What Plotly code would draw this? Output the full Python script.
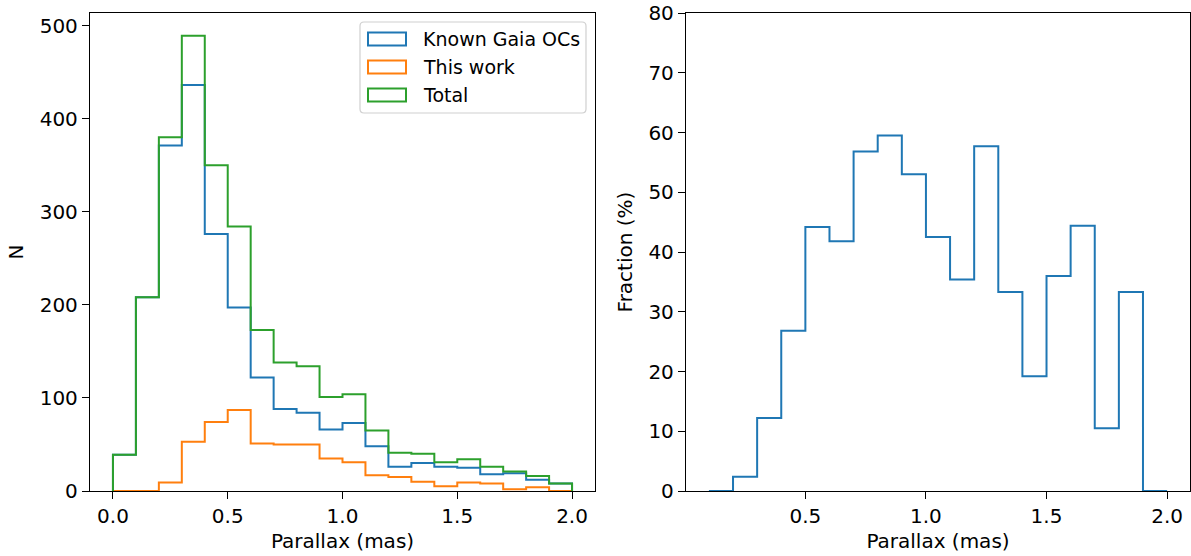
import plotly.graph_objects as go

# ---- data ----
bin_edges = [0.0, 0.1, 0.2, 0.3, 0.4, 0.5, 0.6, 0.7, 0.8, 0.9, 1.0,
             1.1, 1.2, 1.3, 1.4, 1.5, 1.6, 1.7, 1.8, 1.9, 2.0]
known_gaia = [39, 208, 371, 436, 276, 197, 122, 88, 84, 66, 73,
              48, 26, 30, 26, 25, 18, 19, 12, 8]
this_work = [0, 0, 9, 53, 74, 87, 51, 50, 50, 35, 31,
             17, 15, 10, 5, 9, 8, 2, 4, 0]
total = [39, 208, 380, 489, 350, 284, 173, 138, 134, 101, 104,
         65, 41, 40, 31, 34, 26, 21, 16, 8]

frac_edges = [0.1, 0.2, 0.3, 0.4, 0.5, 0.6, 0.7, 0.8, 0.9, 1.0,
              1.1, 1.2, 1.3, 1.4, 1.5, 1.6, 1.7, 1.8, 1.9, 2.0]
fraction = [0.0, 2.4, 12.2, 26.8, 44.2, 41.8, 56.8, 59.5, 53.0, 42.5,
            35.4, 57.7, 33.3, 19.2, 36.0, 44.4, 10.5, 33.3, 0.0]

series_names = ["Known Gaia OCs", "This work", "Total"]
x_ticks_left = [0.0, 0.5, 1.0, 1.5, 2.0]
y_ticks_left = [0, 100, 200, 300, 400, 500]
x_ticks_right = [0.5, 1.0, 1.5, 2.0]
y_ticks_right = [0, 10, 20, 30, 40, 50, 60, 70, 80]

BLUE, ORANGE, GREEN = "#1f77b4", "#ff7f0e", "#2ca02c"
FONT = "DejaVu Sans"
FS = 20
FS_LEG = 19

W, H = 1191, 556
ML, MR, MT, MB = 90, 1, 13, 65
PW, PH = W - ML - MR, H - MT - MB


def step_path(edges, values):
    xs, ys = [edges[0]], [0]
    for i, v in enumerate(values):
        xs += [edges[i], edges[i + 1]]
        ys += [v, v]
    xs.append(edges[-1])
    ys.append(0)
    return xs, ys


def px(xp):
    return (xp - ML) / PW


def py(yp):
    return (H - MB - yp) / PH


fig = go.Figure()

colors = [BLUE, ORANGE, GREEN]
for name, vals, col in zip(series_names, [known_gaia, this_work, total], colors):
    xs, ys = step_path(bin_edges, vals)
    fig.add_trace(go.Scatter(x=xs, y=ys, mode="lines", name=name,
                             line=dict(color=col, width=2),
                             xaxis="x", yaxis="y", showlegend=False))

xs, ys = step_path(frac_edges, fraction)
fig.add_trace(go.Scatter(x=xs, y=ys, mode="lines", name="Fraction",
                         line=dict(color=BLUE, width=2),
                         xaxis="x2", yaxis="y2", showlegend=False))

# ---- legend (matplotlib style: outlined patches in a rounded box) ----
shapes = []
annotations = []
bx0, bx1, by0, by1, r = 360, 586, 22, 113, 4
path = (f"M{px(bx0 + r)},{py(by0)} L{px(bx1 - r)},{py(by0)} "
        f"Q{px(bx1)},{py(by0)} {px(bx1)},{py(by0 + r)} "
        f"L{px(bx1)},{py(by1 - r)} Q{px(bx1)},{py(by1)} {px(bx1 - r)},{py(by1)} "
        f"L{px(bx0 + r)},{py(by1)} Q{px(bx0)},{py(by1)} {px(bx0)},{py(by1 - r)} "
        f"L{px(bx0)},{py(by0 + r)} Q{px(bx0)},{py(by0)} {px(bx0 + r)},{py(by0)} Z")
shapes.append(dict(type="path", xref="paper", yref="paper", path=path,
                   line=dict(color="#d0d0d0", width=1.2),
                   fillcolor="rgba(255,255,255,0.8)", layer="above"))
for i, (name, col) in enumerate(zip(series_names, colors)):
    cy = 39 + 28 * i
    shapes.append(dict(type="rect", xref="paper", yref="paper",
                       x0=px(368), x1=px(406), y0=py(cy - 6.5), y1=py(cy + 6.5),
                       line=dict(color=col, width=2), fillcolor="rgba(0,0,0,0)",
                       layer="above"))
    annotations.append(dict(xref="paper", yref="paper", x=px(421), y=py(cy),
                            xanchor="left", yanchor="middle", text=name,
                            showarrow=False,
                            font=dict(family=FONT, size=FS_LEG, color="black")))

axis_common = dict(showline=True, linecolor="black", linewidth=1.3, mirror=True,
                   ticks="outside", ticklen=7, tickwidth=1.3, tickcolor="black",
                   showgrid=False, zeroline=False,
                   tickfont=dict(family=FONT, size=FS, color="black"))

fig.update_layout(
    width=W, height=H,
    margin=dict(l=ML, r=MR, t=MT, b=MB),
    plot_bgcolor="white", paper_bgcolor="white",
    font=dict(family=FONT, size=FS, color="black"),
    showlegend=False,
    shapes=shapes, annotations=annotations,
    xaxis=dict(domain=[0, 505 / PW], range=[-0.1, 2.1], tickvals=x_ticks_left,
               tickformat=".1f", anchor="y",
               title=dict(text="Parallax (mas)", standoff=6,
                          font=dict(family=FONT, size=FS)),
               **axis_common),
    yaxis=dict(domain=[0, 1], range=[0, 513.45], tickvals=y_ticks_left,
               anchor="x",
               title=dict(text="N", standoff=10, font=dict(family=FONT, size=FS)),
               **axis_common),
    xaxis2=dict(domain=[596 / PW, 1.0], range=[0.005, 2.095], tickvals=x_ticks_right,
                tickformat=".1f", anchor="y2",
                title=dict(text="Parallax (mas)", standoff=6,
                           font=dict(family=FONT, size=FS)),
                **axis_common),
    yaxis2=dict(domain=[0, 1], range=[0, 80], tickvals=y_ticks_right,
                anchor="x2",
                title=dict(text="Fraction (%)", standoff=10,
                           font=dict(family=FONT, size=FS)),
                **axis_common),
)

fig.write_html("out.html")
